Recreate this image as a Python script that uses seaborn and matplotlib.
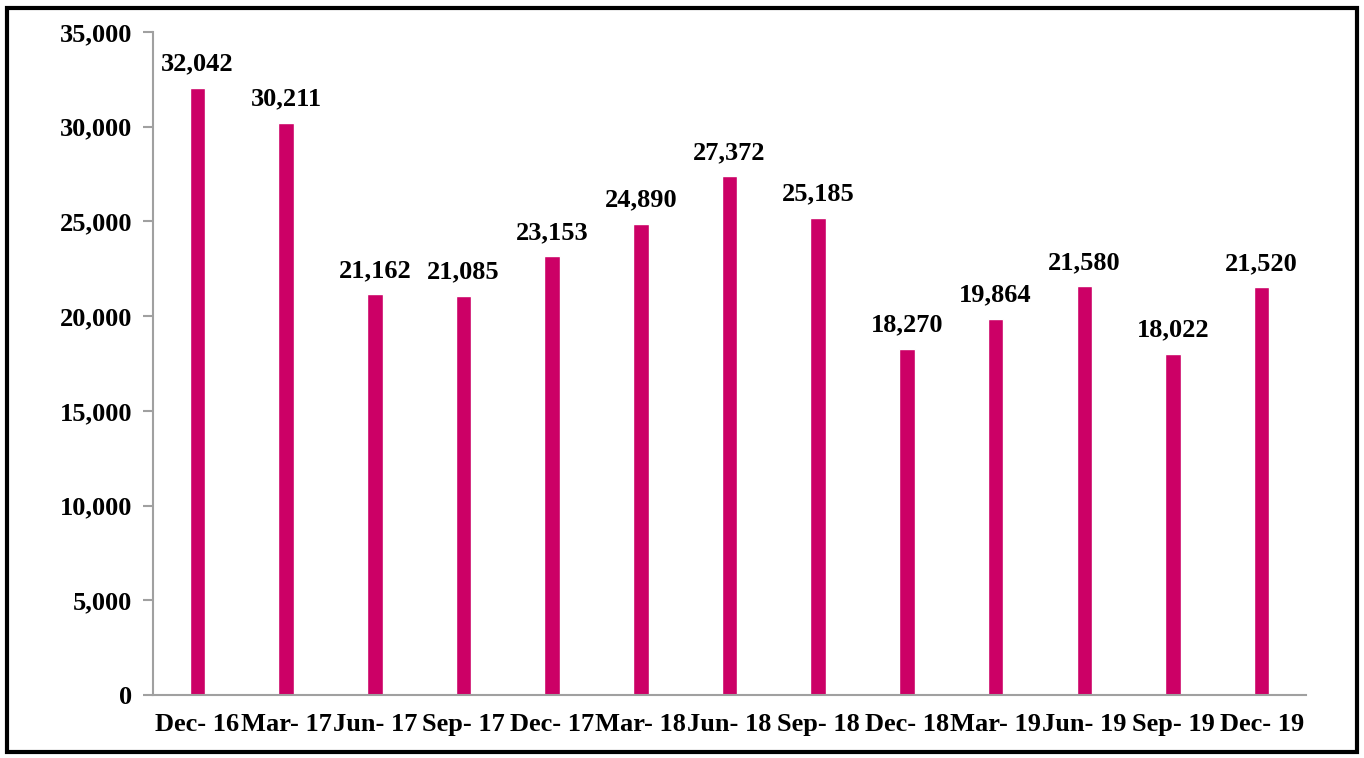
import matplotlib
matplotlib.use('Agg')
import matplotlib.pyplot as plt
import seaborn as sns
import pandas as pd
from matplotlib.patches import Rectangle
from matplotlib.ticker import FuncFormatter, MultipleLocator, FixedLocator

quarters = ['Dec- 16', 'Mar- 17', 'Jun- 17', 'Sep- 17', 'Dec- 17', 'Mar- 18', 'Jun- 18',
            'Sep- 18', 'Dec- 18', 'Mar- 19', 'Jun- 19', 'Sep- 19', 'Dec- 19']
values = [32042, 30211, 21162, 21085, 23153, 24890, 27372, 25185, 18270, 19864, 21580, 18022, 21520]

df = pd.DataFrame({'quarter': quarters, 'value': values})

sns.set_style('white')
plt.rcParams['font.family'] = ['Liberation Serif', 'DejaVu Serif']
plt.rcParams['font.weight'] = 'bold'
plt.rcParams['text.color'] = 'black'
plt.rcParams['xtick.color'] = 'black'
plt.rcParams['ytick.color'] = 'black'

FS = 19

fig = plt.figure(figsize=(13.64, 7.58), dpi=100)
ax = fig.add_axes([0.1122, 0.0831, 0.8453, 0.8747])

sns.barplot(data=df, x='quarter', y='value', color='#CC0066', saturation=1,
            width=0.175, ax=ax, errorbar=None)

for i, v in enumerate(values):
    ax.text(i, v + 650, f'{v:,}', ha='center', va='bottom', fontsize=FS, fontweight='bold',
            color='black')

ax.set_ylim(0, 35000)
ax.set_xlim(-0.5, len(quarters) - 0.5)
ax.yaxis.set_major_locator(MultipleLocator(5000))
ax.yaxis.set_major_formatter(FuncFormatter(lambda v, p: f'{int(v):,}'))
ax.xaxis.set_minor_locator(FixedLocator([i - 0.5 for i in range(len(quarters) + 1)]))
ax.tick_params(axis='x', which='major', length=0, pad=13, labelsize=FS, labelcolor='black')
ax.tick_params(axis='x', which='minor', length=7, width=1.5, color='#A0A0A0', direction='out')
ax.tick_params(axis='y', length=7, width=1.5, color='#A0A0A0', direction='out', pad=8,
               labelsize=FS, labelcolor='black', left=True)
for lab in ax.get_xticklabels() + ax.get_yticklabels():
    lab.set_fontweight('bold')

for s in ['top', 'right']:
    ax.spines[s].set_visible(False)
for s in ['left', 'bottom']:
    ax.spines[s].set_color('#A0A0A0')
    ax.spines[s].set_linewidth(1.5)

ax.set_xlabel('')
ax.set_ylabel('')

fig.patches.append(Rectangle((7 / 1364, 6 / 758), 1350 / 1364, 744 / 758, transform=fig.transFigure,
                             fill=False, edgecolor='black', linewidth=3))

fig.savefig('out.png', dpi=100)
